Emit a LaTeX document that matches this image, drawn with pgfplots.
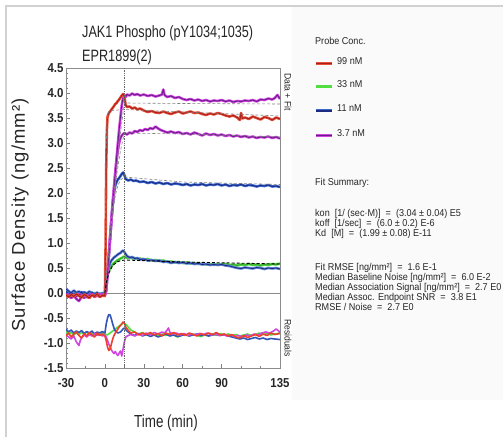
\documentclass[border=0pt]{standalone}
\usepackage{pgfplots}
\pgfplotsset{compat=1.18}
\usepackage{pgfplotstable}
\usepackage{fontspec}
\setmainfont{Liberation Sans}
\newfontfamily\nar{Liberation Sans}[FakeStretch=0.77]
\newfontfamily\narb{Liberation Sans}[FakeStretch=0.88]
\newfontfamily\legf{Liberation Sans}[FakeStretch=0.91]
\newfontfamily\ylabf{Liberation Sans}[LetterSpace=6]

\definecolor{redD}{HTML}{A8201A}
\definecolor{redL}{HTML}{E8503A}
\definecolor{grnD}{HTML}{2A8A2A}
\definecolor{grnL}{HTML}{52DD40}
\definecolor{bluD}{HTML}{1C2A80}
\definecolor{bluL}{HTML}{3C68D0}
\definecolor{purD}{HTML}{6A1B8A}
\definecolor{magL}{HTML}{D244E2}
\definecolor{fitc}{HTML}{808080}
\definecolor{txt}{HTML}{262626}

% sensorgram data, x = time (min), y = surface density
\pgfplotstableread[row sep=\\]{x y\\
-30 -0.04\\ -28 -0.08\\ -26 -0.03\\ -24 -0.07\\ -22 -0.02\\ -20 -0.06\\ -18 -0.09\\ -16 -0.03\\
-14 -0.06\\ -12 -0.1\\ -10 -0.04\\ -8 -0.07\\ -6 -0.02\\ -4 -0.08\\ -2 -0.05\\ 0 -0.06\\
0.5 0.9\\ 1 2.5\\ 1.5 3.25\\ 2 3.52\\ 3 3.6\\ 4 3.63\\ 5 3.67\\ 6 3.7\\ 7 3.74\\ 8 3.78\\
9 3.8\\ 10 3.84\\ 11 3.87\\ 12 3.91\\ 13 3.95\\ 14 3.98\\ 15 3.93\\ 16 3.76\\ 17 3.72\\
19 3.73\\ 21 3.69\\ 23 3.71\\ 25 3.67\\ 27 3.69\\ 30 3.65\\ 33 3.62\\ 36 3.64\\ 39 3.61\\
42 3.6\\ 45 3.63\\ 48 3.6\\ 51 3.58\\ 54 3.61\\ 57 3.63\\ 60 3.59\\ 63 3.61\\ 66 3.63\\
69 3.6\\ 72 3.61\\ 75 3.58\\ 78 3.56\\ 81 3.59\\ 84 3.57\\ 87 3.6\\ 90 3.58\\ 93 3.55\\
96 3.53\\ 99 3.55\\ 102 3.51\\ 104 3.46\\ 105 3.6\\ 106 3.49\\ 108 3.51\\ 111 3.48\\
114 3.53\\ 117 3.5\\ 120 3.47\\ 123 3.52\\ 126 3.5\\ 129 3.46\\ 132 3.51\\ 135 3.48\\
}\tRed

\pgfplotstableread[row sep=\\]{x y\\
-30 -0.02\\ -28 -0.06\\ -26 -0.1\\ -24 -0.05\\ -22 -0.12\\ -20 -0.16\\ -18 -0.08\\ -16 -0.04\\
-14 -0.09\\ -12 -0.05\\ -10 -0.02\\ -8 -0.07\\ -6 -0.04\\ -4 -0.06\\ -2 -0.03\\ 0 -0.05\\
1 0.05\\ 2 0.4\\ 3 0.75\\ 4 1.1\\ 5 1.45\\ 6 1.8\\ 7 2.1\\ 8 2.4\\ 9 2.7\\ 10 3.0\\
11 3.28\\ 12 3.52\\ 13 3.76\\ 14 3.9\\ 15 3.96\\ 16 3.92\\ 17 3.97\\ 19 3.95\\ 21 3.99\\
23 3.96\\ 25 3.98\\ 27 3.95\\ 30 3.97\\ 33 3.94\\ 36 3.96\\ 39 3.93\\ 42 3.95\\ 44 3.97\\
45 4.07\\ 46 3.96\\ 48 3.92\\ 51 3.94\\ 54 3.9\\ 57 3.92\\ 60 3.88\\ 63 3.86\\ 66 3.88\\
69 3.85\\ 72 3.87\\ 75 3.84\\ 78 3.86\\ 81 3.83\\ 84 3.85\\ 87 3.84\\ 90 3.86\\ 93 3.83\\
96 3.85\\ 99 3.82\\ 102 3.84\\ 105 3.83\\ 108 3.85\\ 111 3.84\\ 114 3.86\\ 117 3.83\\
120 3.87\\ 123 3.86\\ 126 3.89\\ 129 3.87\\ 131 3.9\\ 133 3.96\\ 135 3.88\\
}\tPa

\pgfplotstableread[row sep=\\]{x y\\
-30 -0.06\\ -28 -0.03\\ -26 -0.08\\ -24 -0.04\\ -22 -0.07\\ -20 -0.02\\ -18 -0.06\\ -16 -0.1\\
-14 -0.04\\ -12 -0.07\\ -10 -0.03\\ -8 -0.08\\ -6 -0.05\\ -4 -0.02\\ -2 -0.06\\ 0 -0.04\\
1 0.05\\ 2 0.4\\ 3 0.75\\ 4 1.1\\ 5 1.45\\ 6 1.8\\ 7 2.1\\ 8 2.4\\ 9 2.65\\ 10 2.85\\
11 3.0\\ 12 3.1\\ 13 3.15\\ 14 3.18\\ 15 3.2\\ 17 3.17\\ 19 3.21\\ 21 3.19\\ 23 3.24\\
25 3.22\\ 27 3.26\\ 29 3.24\\ 31 3.28\\ 33 3.26\\ 35 3.3\\ 37 3.28\\ 39 3.33\\ 41 3.29\\
43 3.26\\ 45 3.24\\ 48 3.21\\ 51 3.23\\ 54 3.2\\ 57 3.22\\ 60 3.18\\ 63 3.2\\ 66 3.17\\
69 3.21\\ 72 3.18\\ 75 3.15\\ 78 3.19\\ 81 3.16\\ 84 3.18\\ 87 3.15\\ 90 3.17\\ 93 3.14\\
96 3.16\\ 99 3.13\\ 102 3.15\\ 105 3.12\\ 108 3.14\\ 111 3.11\\ 114 3.13\\ 117 3.1\\
120 3.12\\ 123 3.11\\ 126 3.13\\ 129 3.1\\ 132 3.12\\ 135 3.09\\
}\tPb

\pgfplotstableread[row sep=\\]{x y\\
-30 0.03\\ -28 -0.02\\ -26 0.01\\ -24 -0.04\\ -22 0.0\\ -20 -0.03\\ -18 0.02\\ -16 -0.05\\
-14 -0.01\\ -12 -0.04\\ -10 0.01\\ -8 -0.03\\ -6 -0.06\\ -4 -0.02\\ -2 -0.04\\ 0 -0.02\\
1 0.05\\ 2 0.4\\ 3 0.75\\ 4 1.1\\ 5 1.45\\ 6 1.75\\ 7 2.0\\ 8 2.15\\ 9 2.22\\ 10 2.27\\
11 2.3\\ 12 2.34\\ 13 2.38\\ 14 2.41\\ 15 2.36\\ 16 2.28\\ 18 2.25\\ 20 2.27\\ 22 2.24\\
24 2.25\\ 27 2.22\\ 30 2.23\\ 33 2.2\\ 36 2.22\\ 39 2.19\\ 42 2.21\\ 45 2.18\\ 48 2.2\\
51 2.17\\ 54 2.19\\ 57 2.18\\ 60 2.16\\ 63 2.18\\ 66 2.15\\ 69 2.17\\ 72 2.16\\ 75 2.18\\
78 2.15\\ 81 2.17\\ 84 2.16\\ 87 2.18\\ 90 2.15\\ 93 2.17\\ 96 2.14\\ 99 2.16\\ 102 2.15\\
105 2.17\\ 108 2.14\\ 111 2.16\\ 114 2.15\\ 117 2.13\\ 120 2.15\\ 123 2.14\\ 126 2.16\\
129 2.13\\ 132 2.14\\ 135 2.12\\
}\tBa

\pgfplotstableread[row sep=\\]{x y\\
-30 0.05\\ -28 0.02\\ -26 -0.02\\ -24 0.01\\ -22 -0.03\\ -20 0.0\\ -18 -0.04\\ -16 0.01\\
-14 -0.02\\ -12 0.02\\ -10 -0.03\\ -8 0.0\\ -6 -0.04\\ -4 -0.01\\ -2 -0.03\\ 0 -0.02\\
0.5 0.1\\ 1 0.22\\ 2 0.34\\ 3 0.43\\ 4 0.49\\ 5 0.54\\ 6 0.57\\ 7 0.6\\ 8 0.62\\ 9 0.64\\
10 0.66\\ 11 0.67\\ 12 0.69\\ 13 0.7\\ 14 0.72\\ 15 0.73\\ 17 0.7\\ 19 0.72\\ 21 0.69\\
23 0.7\\ 25 0.68\\ 27 0.69\\ 30 0.67\\ 33 0.68\\ 36 0.65\\ 39 0.66\\ 42 0.64\\ 45 0.65\\
48 0.62\\ 51 0.63\\ 54 0.61\\ 57 0.62\\ 60 0.6\\ 63 0.61\\ 66 0.59\\ 69 0.6\\ 72 0.58\\
75 0.59\\ 78 0.57\\ 81 0.58\\ 84 0.56\\ 87 0.58\\ 90 0.57\\ 93 0.58\\ 96 0.56\\ 99 0.57\\
102 0.55\\ 105 0.57\\ 108 0.56\\ 111 0.58\\ 114 0.56\\ 117 0.57\\ 120 0.55\\ 123 0.57\\
126 0.56\\ 129 0.58\\ 132 0.57\\ 135 0.59\\
}\tGrn

\pgfplotstableread[row sep=\\]{x y\\
-30 0.08\\ -28 0.04\\ -26 0.0\\ -24 0.05\\ -22 0.01\\ -20 0.03\\ -18 -0.02\\ -16 0.02\\
-14 -0.01\\ -12 0.03\\ -10 0.0\\ -8 -0.02\\ -6 0.01\\ -4 -0.03\\ -2 0.0\\ 0 -0.01\\
0.5 0.12\\ 1 0.25\\ 2 0.4\\ 3 0.52\\ 4 0.6\\ 5 0.65\\ 6 0.68\\ 7 0.71\\ 8 0.73\\ 9 0.75\\
10 0.77\\ 11 0.79\\ 12 0.8\\ 13 0.83\\ 14 0.85\\ 15 0.82\\ 17 0.74\\ 19 0.71\\ 21 0.72\\
23 0.69\\ 25 0.7\\ 27 0.67\\ 30 0.68\\ 33 0.65\\ 36 0.66\\ 39 0.64\\ 42 0.65\\ 45 0.62\\
48 0.63\\ 51 0.6\\ 54 0.62\\ 57 0.6\\ 60 0.61\\ 63 0.59\\ 66 0.6\\ 69 0.58\\ 72 0.59\\
75 0.57\\ 78 0.58\\ 81 0.56\\ 84 0.57\\ 87 0.56\\ 90 0.57\\ 93 0.55\\ 96 0.54\\ 99 0.52\\
102 0.5\\ 105 0.49\\ 108 0.51\\ 111 0.5\\ 114 0.49\\ 117 0.51\\ 120 0.5\\ 123 0.48\\
126 0.5\\ 129 0.49\\ 132 0.5\\ 135 0.48\\
}\tBb

% residuals (offset trace below zero)
\pgfplotstableread[row sep=\\]{x y\\
-30 -0.86\\ -28 -0.8\\ -26 -0.88\\ -24 -0.82\\ -22 -0.78\\ -20 -0.85\\ -18 -0.9\\ -16 -0.81\\
-14 -0.86\\ -12 -0.79\\ -10 -0.84\\ -8 -0.88\\ -6 -0.8\\ -4 -0.85\\ -2 -0.82\\ 0 -0.86\\
1 -0.95\\ 2 -1.08\\ 3 -1.15\\ 4 -1.12\\ 5 -1.02\\ 6 -0.92\\ 7 -0.85\\ 8 -0.8\\ 9 -0.76\\
10 -0.72\\ 11 -0.68\\ 12 -0.65\\ 13 -0.62\\ 14 -0.58\\ 15 -0.6\\ 16 -0.68\\ 18 -0.75\\
20 -0.8\\ 23 -0.78\\ 26 -0.84\\ 29 -0.8\\ 32 -0.83\\ 35 -0.79\\ 38 -0.84\\ 41 -0.81\\
44 -0.86\\ 47 -0.8\\ 50 -0.83\\ 53 -0.79\\ 56 -0.84\\ 59 -0.81\\ 62 -0.85\\ 65 -0.8\\
68 -0.83\\ 71 -0.86\\ 74 -0.81\\ 77 -0.84\\ 80 -0.8\\ 83 -0.83\\ 86 -0.79\\ 89 -0.84\\
92 -0.82\\ 95 -0.86\\ 98 -0.83\\ 101 -0.88\\ 104 -0.9\\ 107 -0.85\\ 110 -0.89\\ 113 -0.86\\
116 -0.83\\ 119 -0.87\\ 122 -0.82\\ 125 -0.85\\ 128 -0.8\\ 131 -0.83\\ 135 -0.81\\
}\rRed

\pgfplotstableread[row sep=\\]{x y\\
-30 -0.72\\ -28 -0.78\\ -26 -0.74\\ -24 -0.8\\ -22 -0.76\\ -20 -0.79\\ -18 -0.75\\ -16 -0.81\\
-14 -0.77\\ -12 -0.8\\ -10 -0.76\\ -8 -0.82\\ -6 -0.78\\ -4 -0.8\\ -2 -0.77\\ 0 -0.8\\
1 -0.62\\ 2 -0.5\\ 3 -0.43\\ 4 -0.44\\ 5 -0.52\\ 6 -0.62\\ 7 -0.7\\ 8 -0.76\\ 10 -0.8\\
12 -0.78\\ 14 -0.72\\ 15 -0.7\\ 17 -0.76\\ 20 -0.82\\ 23 -0.85\\ 26 -0.81\\ 29 -0.86\\
32 -0.83\\ 35 -0.87\\ 38 -0.84\\ 41 -0.88\\ 44 -0.85\\ 47 -0.82\\ 50 -0.86\\ 53 -0.84\\
56 -0.87\\ 59 -0.85\\ 62 -0.83\\ 65 -0.86\\ 68 -0.84\\ 71 -0.82\\ 74 -0.85\\ 77 -0.83\\
80 -0.86\\ 83 -0.84\\ 86 -0.82\\ 89 -0.85\\ 92 -0.83\\ 95 -0.86\\ 98 -0.88\\ 101 -0.9\\
104 -0.92\\ 107 -0.9\\ 110 -0.93\\ 113 -0.91\\ 116 -0.89\\ 119 -0.92\\ 122 -0.9\\
125 -0.93\\ 128 -0.91\\ 131 -0.92\\ 135 -0.93\\
}\rBlu

\pgfplotstableread[row sep=\\]{x y\\
-30 -0.84\\ -28 -0.88\\ -26 -0.92\\ -24 -0.86\\ -22 -0.98\\ -20 -1.05\\ -19 -0.95\\ -18 -0.9\\
-16 -0.84\\ -14 -0.88\\ -12 -0.83\\ -10 -0.86\\ -8 -0.81\\ -6 -0.85\\ -4 -0.82\\ -2 -0.86\\
0 -0.84\\ 1 -0.88\\ 2 -0.95\\ 3 -1.02\\ 4 -1.08\\ 5 -1.14\\ 6 -1.18\\ 7 -1.21\\ 8 -1.17\\
9 -1.22\\ 10 -1.25\\ 11 -1.2\\ 12 -1.16\\ 13 -1.26\\ 14 -1.12\\ 15 -0.98\\ 16 -0.88\\
18 -0.85\\ 20 -0.83\\ 23 -0.86\\ 26 -0.82\\ 29 -0.85\\ 32 -0.8\\ 35 -0.84\\ 38 -0.79\\
41 -0.82\\ 44 -0.78\\ 46 -0.8\\ 48 -0.74\\ 49 -0.7\\ 50 -0.78\\ 52 -0.82\\ 55 -0.8\\
58 -0.84\\ 61 -0.81\\ 64 -0.85\\ 67 -0.82\\ 70 -0.84\\ 73 -0.81\\ 76 -0.83\\ 79 -0.8\\
82 -0.84\\ 85 -0.82\\ 88 -0.85\\ 91 -0.83\\ 94 -0.86\\ 97 -0.84\\ 100 -0.87\\ 103 -0.85\\
106 -0.88\\ 109 -0.84\\ 112 -0.86\\ 115 -0.82\\ 118 -0.84\\ 121 -0.8\\ 124 -0.78\\
127 -0.8\\ 130 -0.76\\ 132 -0.72\\ 134 -0.76\\ 135 -0.79\\
}\rMag

\pgfplotstableread[row sep=\\]{x y\\
-30 -0.78\\ -28 -0.82\\ -26 -0.79\\ -24 -0.84\\ -22 -0.8\\ -20 -0.83\\ -18 -0.79\\ -16 -0.82\\
-14 -0.78\\ -12 -0.83\\ -10 -0.8\\ -8 -0.84\\ -6 -0.81\\ -4 -0.83\\ -2 -0.8\\ 0 -0.82\\
2 -0.84\\ 4 -0.8\\ 6 -0.76\\ 8 -0.72\\ 10 -0.68\\ 12 -0.64\\ 14 -0.6\\ 16 -0.62\\ 18 -0.68\\
20 -0.74\\ 23 -0.78\\ 26 -0.82\\ 29 -0.79\\ 32 -0.84\\ 35 -0.8\\ 38 -0.83\\ 41 -0.86\\
44 -0.82\\ 47 -0.85\\ 50 -0.81\\ 53 -0.84\\ 56 -0.88\\ 59 -0.85\\ 62 -0.83\\ 65 -0.86\\
68 -0.82\\ 71 -0.85\\ 74 -0.87\\ 77 -0.84\\ 80 -0.86\\ 83 -0.82\\ 86 -0.85\\ 89 -0.81\\
92 -0.84\\ 95 -0.82\\ 98 -0.85\\ 101 -0.83\\ 104 -0.86\\ 107 -0.84\\ 110 -0.82\\
113 -0.85\\ 116 -0.83\\ 119 -0.8\\ 122 -0.83\\ 125 -0.81\\ 128 -0.84\\ 131 -0.82\\ 135 -0.8\\
}\rGrn

\pgfplotsset{
  halo/.style={line width=2.6pt, line join=round, #1},
  core/.style={line width=0.9pt, line join=round, #1},
  fit/.style={line width=0.6pt, dash pattern=on 3pt off 2pt, fitc},
  resid/.style={line width=1.6pt, line join=round, #1},
}

\begin{document}
\begin{tikzpicture}
\useasboundingbox (0,0) rectangle (503bp,437bp);
\begin{scope}[x=1bp, y=1bp]
\fill[white] (0,0) rectangle (503,437);
\fill[black!2] (292,37) rectangle (503,430);
\draw[black!18, line width=1.5bp] (6,0) -- (6,431) -- (503,431);
\end{scope}

\begin{axis}[
  at={(66bp,69bp)}, anchor=south west,
  width=214bp, height=300bp, scale only axis,
  xmin=-30, xmax=135, ymin=-1.5, ymax=4.5,
  xtick={-30,0,30,60,90,135},
  minor xtick={-15,15,45,75,105,120},
  ytick={-1.5,-1,-0.5,0,0.5,1,1.5,2,2.5,3,3.5,4,4.5},
  minor y tick num=4,
  tick align=inside,
  xtick pos=bottom, ytick pos=left,
  major tick length=4bp, minor tick length=2bp,
  axis line style={black!45, line width=0.7pt},
  every tick/.style={black!50, line width=0.5pt},
  tick label style={font=\narb\bfseries\fontsize{13}{13}\selectfont, txt},
  /pgf/number format/assume math mode=true,
  yticklabel style={/pgf/number format/.cd, fixed, fixed zerofill, precision=1},
  xticklabel style={/pgf/number format/.cd, fixed, precision=0},
  yticklabel shift=-1bp,
  xticklabel shift=7bp,
]
\addplot[black!45, line width=0.8pt] coordinates {(-30,0) (135,0)};

% data traces
\addplot[halo=grnL] table {\tGrn};
\addplot[core=grnD!70!grnL] table {\tGrn};
\addplot[halo=bluL!80] table {\tBb};
\addplot[core=bluD] table {\tBb};
\addplot[halo=bluL] table {\tBa};
\addplot[core=bluD] table {\tBa};
\addplot[halo=magL] table {\tPb};
\addplot[core=purD] table {\tPb};
\addplot[halo=magL] table {\tPa};
\addplot[core=purD] table {\tPa};
\addplot[halo=redL] table {\tRed};
\addplot[core=redD] table {\tRed};

% fitted curves
\addplot[fit] coordinates {(0,0) (0.5,1.9) (1,2.9) (1.5,3.35) (2,3.55) (3,3.63) (5,3.65) (15,3.67) (40,3.64) (80,3.6) (135,3.54)};
\addplot[fit] coordinates {(0,0) (3,0.9) (6,1.75) (9,2.5) (12,3.2) (15,3.8) (60,3.79) (135,3.78)};
\addplot[fit] coordinates {(0,0) (3,0.85) (6,1.65) (9,2.35) (12,2.85) (15,3.2) (60,3.18) (135,3.12)};
\addplot[fit] coordinates {(0,0) (2,0.6) (4,1.15) (6,1.6) (8,1.95) (10,2.15) (12,2.26) (15,2.32) (60,2.22) (135,2.17)};
\addplot[fit, black, line width=0.9pt] coordinates {(0,0) (1,0.2) (3,0.4) (6,0.55) (10,0.63) (15,0.66) (60,0.62) (135,0.58)};

% residual traces
\addplot[resid=grnL] table {\rGrn};
\addplot[resid=bluL!70!bluD] table {\rBlu};
\addplot[resid=magL] table {\rMag};
\addplot[resid=redL!80!red] table {\rRed};

\draw[black!60, densely dotted, line width=0.8pt] (axis cs:15,-1.5) -- (axis cs:15,4.5);
\end{axis}

\begin{scope}[x=1bp, y=1bp, txt]
% titles and labels
\node[anchor=base west, inner sep=0, font=\nar\fontsize{16.5}{16.5}\selectfont] at (82,399) {JAK1 Phospho (pY1034;1035)};
\node[anchor=base west, inner sep=0, font=\nar\fontsize{16.5}{16.5}\selectfont] at (82,376) {EPR1899(2)};
\node[rotate=90, inner sep=0, font=\ylabf\fontsize{18.5}{18.5}\selectfont] at (20,222) {Surface Density (ng/mm²)};
\node[inner sep=0, font=\nar\fontsize{17.5}{17.5}\selectfont] at (166,14) {Time (min)};
\node[rotate=-90, inner sep=0, font=\legf\fontsize{9.5}{9.5}\selectfont] at (288,345) {Data + Fit};
\node[rotate=-90, inner sep=0, font=\legf\fontsize{9.5}{9.5}\selectfont] at (288,99) {Residuals};

% legend
\begin{scope}[every node/.style={anchor=base west, inner sep=0, font=\legf\fontsize{10}{10}\selectfont}]
\node at (315,392.5) {Probe Conc.};
\draw[line width=3bp, redL] (316,373.5) -- (332,373.5);
\draw[line width=1.3bp, redD] (316,373.5) -- (332,373.5);
\node at (337,373) {99 nM};
\draw[line width=3bp, grnL] (316,350) -- (332,350);
\node at (337,349.5) {33 nM};
\draw[line width=3bp, bluL] (316,326) -- (332,326);
\draw[line width=1.3bp, bluD] (316,326) -- (332,326);
\node at (337,325.5) {11 nM};
\draw[line width=3bp, magL] (316,301.5) -- (332,301.5);
\draw[line width=1.3bp, purD] (316,301.5) -- (332,301.5);
\node at (337,301) {3.7 nM};

\node at (315,251.5) {Fit Summary:};
\node at (315,220.5) {kon\ \ [1/ (sec·M)]\ \ =\ \ (3.04 ± 0.04) E5};
\node at (315,210.5) {koff\ \ [1/sec]\ \ =\ \ (6.0 ± 0.2) E-6};
\node at (315,200.5) {Kd\ \ [M]\ \ =\ \ (1.99 ± 0.08) E-11};
\node at (315,166.5) {Fit RMSE [ng/mm²]\ \ =\ \ 1.6 E-1};
\node at (315,156.5) {Median Baseline Noise [ng/mm²]\ \ =\ \ 6.0 E-2};
\node at (315,146.5) {Median Association Signal [ng/mm²]\ \ =\ \ 2.7 E0};
\node at (315,136.5) {Median Assoc. Endpoint SNR\ \ =\ \ 3.8 E1};
\node at (315,126.5) {RMSE / Noise\ \ =\ \ 2.7 E0};
\end{scope}
\end{scope}
\end{tikzpicture}
\end{document}
